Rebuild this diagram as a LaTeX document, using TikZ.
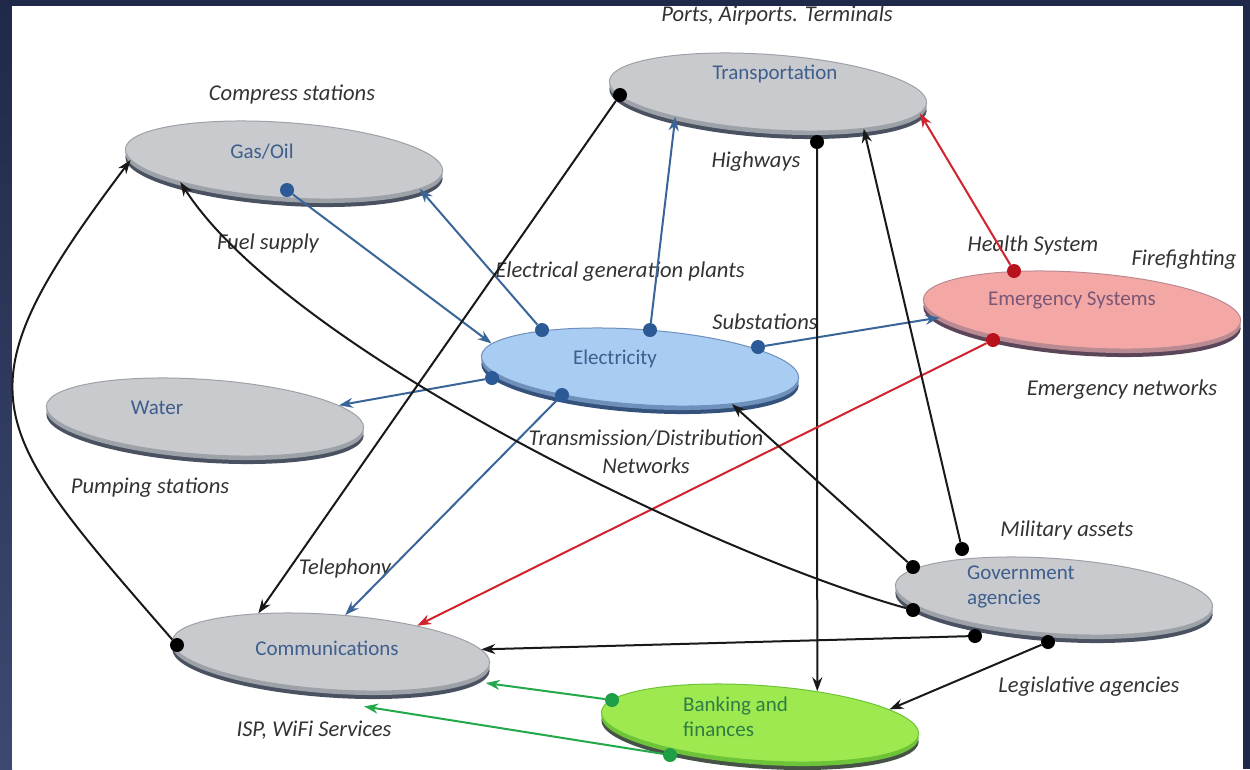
\documentclass[tikz,border=0pt]{standalone}
\usepackage{fontspec}
\setmainfont{Carlito}
\usepackage{tikz}
\usetikzlibrary{shapes, arrows.meta, positioning, shadows}

\definecolor{frame}{HTML}{1F2949}
\definecolor{framelow}{HTML}{3D4971}
\definecolor{face}{HTML}{C9CACD}
\definecolor{rimlight}{HTML}{9DA1A8}
\definecolor{rimdark}{HTML}{4A5262}
\definecolor{elecface}{HTML}{A9CCF3}
\definecolor{elecrim}{HTML}{6E90BA}
\definecolor{elecdark}{HTML}{34527C}
\definecolor{emerface}{HTML}{F4A8A5}
\definecolor{emerrim}{HTML}{BA8A93}
\definecolor{emerdark}{HTML}{5A4658}
\definecolor{bankface}{HTML}{9DE94F}
\definecolor{bankrim}{HTML}{6DC438}
\definecolor{bankdark}{HTML}{465246}
\definecolor{nametext}{HTML}{3E5E8E}
\definecolor{emertext}{HTML}{7A5676}
\definecolor{banktext}{HTML}{2F7C46}
\definecolor{notetext}{HTML}{333333}
\definecolor{blueline}{HTML}{3A6598}
\definecolor{bluedot}{HTML}{2B5A96}
\definecolor{redline}{HTML}{D2222C}
\definecolor{reddot}{HTML}{B8121C}
\definecolor{greenline}{HTML}{23A84B}
\definecolor{greendot}{HTML}{1E9E45}

\begin{document}
\begin{tikzpicture}
  [
    x=1pt, y=-1pt,
    >={Stealth[length=14pt, width=10pt]},
    Disc/.style={ellipse, inner sep=0pt, minimum width=318pt, minimum height=75pt, rotate=-4, line width=1pt},
    Gray/.style={Disc, fill=face, draw=rimlight,
      general shadow={shadow xshift=0pt, shadow yshift=-8pt, fill=rimdark},
      general shadow={shadow xshift=0pt, shadow yshift=-4pt, fill=rimlight}},
    Blue/.style={Disc, fill=elecface, draw=elecrim,
      general shadow={shadow xshift=0pt, shadow yshift=-8pt, fill=elecdark},
      general shadow={shadow xshift=0pt, shadow yshift=-4pt, fill=elecrim}},
    Pink/.style={Disc, fill=emerface, draw=emerrim,
      general shadow={shadow xshift=0pt, shadow yshift=-8pt, fill=emerdark},
      general shadow={shadow xshift=0pt, shadow yshift=-4pt, fill=emerrim}},
    Green/.style={Disc, fill=bankface, draw=bankrim,
      general shadow={shadow xshift=0pt, shadow yshift=-8pt, fill=bankdark},
      general shadow={shadow xshift=0pt, shadow yshift=-4pt, fill=bankrim}},
    Name/.style={font=\fontsize{21}{25}\selectfont, text=nametext, inner sep=0pt},
    Note/.style={font=\itshape\fontsize{22.6}{28}\selectfont, text=notetext, inner sep=0pt},
    Dot/.style={circle, inner sep=0pt, minimum size=14pt},
    BlueDot/.style={Dot, fill=bluedot},
    BlackDot/.style={Dot, fill=black},
    RedDot/.style={Dot, fill=reddot},
    GreenDot/.style={Dot, fill=greendot},
    BlueLine/.style={draw=blueline, line width=2pt},
    BlackLine/.style={draw=black!90, line width=2pt},
    RedLine/.style={draw=redline, line width=2pt},
    GreenLine/.style={draw=greenline, line width=2pt}
  ]
  % Frame
  \useasboundingbox (0,0) rectangle (1250,769);
  \fill[frame] (0,0) rectangle (1250,769);
  \shade[top color=frame, bottom color=framelow] (0,0) rectangle (12,769);
  \fill[white] (12,6) rectangle (1243,769);

  % Nodes
  \node[Gray] (gas) at (284,160) {};
  \node[Gray] (trans) at (768,92) {};
  \node[Blue] (elec) at (640,367) {};
  \node[Gray] (water) at (205,417) {};
  \node[Pink] (emer) at (1082,310) {};
  \node[Gray] (gov) at (1054,596) {};
  \node[Gray] (comm) at (331,652) {};
  \node[Green] (bank) at (760,723) {};

  \node[Name] (gasname) at (262,152) {Gas/Oil};
  \node[Name] (transname) at (775,74) {Transportation};
  \node[Name] (elecname) at (615,359) {Electricity};
  \node[Name] (watername) at (157,408) {Water};
  \node[Name, text=emertext] (emername) at (1072,300) {Emergency Systems};
  \node[Name, anchor=west, align=left] (govname) at (967,587) {Government\\agencies};
  \node[Name] (commname) at (327,648) {Communications};
  \node[Name, anchor=west, align=left, text=banktext] (bankname) at (683,717) {Banking and\\finances};

  \node[Note] (ports) at (777,15) {Ports, Airports. Terminals};
  \node[Note] (compress) at (292,95) {Compress stations};
  \node[Note] (highways) at (756,162) {Highways};
  \node[Note] (fuel) at (268,243) {Fuel supply};
  \node[Note] (plants) at (620,272) {Electrical generation plants};
  \node[Note] (health) at (1033,245) {Health System};
  \node[Note] (fire) at (1184,260) {Firefighting};
  \node[Note] (subst) at (765,322) {Substations};
  \node[Note] (emnet) at (1122,390) {Emergency networks};
  \node[Note, align=center] (trnet) at (646,452) {Transmission/Distribution\\Networks};
  \node[Note] (pump) at (150,488) {Pumping stations};
  \node[Note] (military) at (1067,530) {Military assets};
  \node[Note] (teleph) at (345,568) {Telephony};
  \node[Note] (legis) at (1089,687) {Legislative agencies};
  \node[Note] (isp) at (314,730) {ISP, WiFi Services};

  \node[BlueDot] (gas1) at (287,190) {};
  \node[BlueDot] (elec1) at (542,330) {};
  \node[BlueDot] (elec2) at (650,330) {};
  \node[BlueDot] (elec3) at (758,347) {};
  \node[BlueDot] (elec4) at (492,378) {};
  \node[BlueDot] (elec5) at (562,395) {};
  \node[BlackDot] (trans1) at (620,95) {};
  \node[BlackDot] (trans2) at (817,142) {};
  \node[RedDot] (emer1) at (1014,271) {};
  \node[RedDot] (emer2) at (993,340) {};
  \node[BlackDot] (gov1) at (962,549) {};
  \node[BlackDot] (gov2) at (913,567) {};
  \node[BlackDot] (gov3) at (913,610) {};
  \node[BlackDot] (gov4) at (975,636) {};
  \node[BlackDot] (gov5) at (1048,642) {};
  \node[BlackDot] (comm1) at (177,645) {};
  \node[GreenDot] (bank1) at (612,700) {};
  \node[GreenDot] (bank2) at (670,755) {};

  % Lines
  \path [<-, BlueLine] (elec.175) -- (gas1);
  \path [<-, BlueLine] (gas.-8) -- (elec1);
  \path [<-, BlueLine] (trans.-161) -- (elec2);
  \path [<-, BlueLine] (emer.187) -- (elec3);
  \path [<-, BlueLine] (water.9) -- (elec4);
  \path [<-, BlueLine] (comm.73) -- (elec5);
  \path [<-, BlackLine] (comm.156) -- (trans1);
  \path [<-, BlackLine] (bank.33) -- (trans2);
  \path [<-, RedLine] (trans.-4) -- (emer1);
  \path [<-, RedLine] (comm.21) -- (emer2);
  \path [<-, BlackLine] (trans.-17) -- (gov1);
  \path [<-, BlackLine] (elec.-18) -- (gov2);
  \path [<-, BlackLine] (gas.-164) .. controls (289,351) and (720,557) .. (gov3);
  \path [<-, BlackLine] (gas.-176) .. controls (-46,394) and (-16,423) .. (comm1);
  \path [<-, BlackLine] (comm.5) -- (gov4);
  \path [<-, BlackLine] (bank.10) -- (gov5);
  \path [<-, GreenLine] ([yshift=-12pt]comm.-3) -- (bank1);
  \path [<-, GreenLine] ([yshift=-15pt]comm.-46) -- (bank2);

\end{tikzpicture}
\end{document}
